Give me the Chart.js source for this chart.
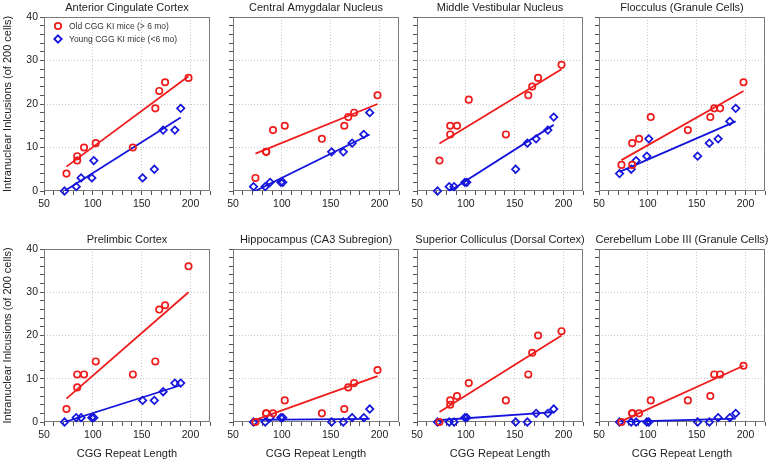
<!DOCTYPE html>
<html>
<head>
<meta charset="UTF-8">
<title>CGG KI inclusions</title>
<script src="https://cdn.jsdelivr.net/npm/chart.js"></script>
<style>
body{margin:0;background:#fff;}
#wrap{position:relative;width:772px;height:465px;overflow:hidden;}
#wrap canvas{position:absolute;}
</style>
</head>
<body>
<div id="wrap"></div>
<script>
// repeat lengths of the animals (same mice in every region)
var oldX   = [73, 84, 84, 91, 103, 141, 164, 168, 174, 198];
var youngX = [71, 83, 88, 99, 101, 151, 163, 172, 184, 190];

var regionNames = ['Anterior Cingulate Cortex', 'Central Amygdalar Nucleus', 'Middle Vestibular Nucleus',
  'Flocculus (Granule Cells)', 'Prelimbic Cortex', 'Hippocampus (CA3 Subregion)',
  'Superior Colliculus (Dorsal Cortex)', 'Cerebellum Lobe III (Granule Cells)'];

// inclusions of 200 cells, per region
var accOld    = [4, 7, 8, 10, 11, 10, 19, 23, 25, 26];
var accYoung  = [0, 1, 3, 3, 7, 3, 5, 14, 14, 19];
var camOld    = [3, 9, 9, 14, 15, 12, 15, 17, 18, 22];
var camYoung  = [1, 1, 2, 2, 2, 9, 9, 11, 13, 18];
var mvnOld    = [7, 13, 15, 15, 21, 13, 22, 24, 26, 29];
var mvnYoung  = [0, 1, 1, 2, 2, 5, 11, 12, 14, 17];
var flocOld   = [6, 6, 11, 12, 17, 14, 17, 19, 19, 25];
var flocYoung = [4, 5, 7, 8, 12, 8, 11, 12, 16, 19];
var plOld     = [3, 8, 11, 11, 14, 11, 14, 26, 27, 36];
var plYoung   = [0, 1, 1, 1, 1, 5, 5, 7, 9, 9];
var hipOld    = [0, 2, 2, 2, 5, 2, 3, 8, 9, 12];
var hipYoung  = [0, 0, 1, 1, 1, 0, 0, 1, 1, 3];
var scOld     = [0, 4, 5, 6, 9, 5, 11, 16, 20, 21];
var scYoung   = [0, 0, 0, 1, 1, 0, 0, 2, 2, 3];
var cbOld     = [0, 2, 2, 2, 5, 5, 6, 11, 11, 13];
var cbYoung   = [0, 0, 0, 0, 0, 0, 0, 1, 1, 2];

// fitted lines, value at start and end of the x range
var oldFitX = [73, 198];
var youngFitX = [71, 190];
var oldFitEnds   = [[5.6, 26.4], [8.6, 20], [10.9, 28], [7.1, 23], [5.4, 30], [0.5, 10.6], [2.3, 20], [0.2, 13]];
var youngFitEnds = [[0, 16.9], [-0.2, 13], [-1.8, 15.2], [4.4, 16], [0, 8.5], [0.5, 0.7], [0.4, 2.3], [0, 0.8]];

var xTicks = [50, 100, 150, 200];
var yTicks = [0, 10, 20, 30, 40];

var oldCounts = [accOld, camOld, mvnOld, flocOld, plOld, hipOld, scOld, cbOld];
var youngCounts = [accYoung, camYoung, mvnYoung, flocYoung, plYoung, hipYoung, scYoung, cbYoung];

var RED = '#ee1c1c', BLUE = '#1414dc';
var FONT = "'Liberation Sans', Arial, sans-serif";
Chart.defaults.font.family = FONT;
Chart.defaults.color = '#222';

function pts(xs, ys){
  return xs.map(function(x, i){ return {x: x, y: ys[i]}; });
}

// box around the plot area
var frame = {
  id: 'frame',
  beforeDatasetsDraw: function(chart){
    var a = chart.chartArea, ctx = chart.ctx;
    ctx.save();
    ctx.strokeStyle = '#7a7a7a';
    ctx.lineWidth = 1;
    ctx.strokeRect(Math.round(a.left) + 0.5, Math.round(a.top) + 0.5, Math.round(a.width) - 1, Math.round(a.bottom) - Math.round(a.top) - 1);
    ctx.restore();
  }
};

// legend inside first panel
var innerLegend = {
  id: 'innerLegend',
  afterDatasetsDraw: function(chart, args, opts){
    if (!opts.show) return;
    var a = chart.chartArea, ctx = chart.ctx;
    ctx.save();
    ctx.font = '8.5px ' + FONT;
    ctx.textBaseline = 'middle';
    var y = a.top + 9;
    chart.data.datasets.forEach(function(d){
      if (!d.label) return;
      var cx = a.left + 14;
      ctx.strokeStyle = d.borderColor;
      ctx.lineWidth = 1.8;
      ctx.beginPath();
      if (d.pointStyle == 'circle') {
        ctx.arc(cx, y, 3.2, 0, Math.PI * 2);
      } else {
        ctx.moveTo(cx, y - 3.7); ctx.lineTo(cx + 3.7, y); ctx.lineTo(cx, y + 3.7); ctx.lineTo(cx - 3.7, y); ctx.closePath();
      }
      ctx.stroke();
      ctx.fillStyle = '#333';
      ctx.fillText(d.label, a.left + 25, y + 0.5);
      y += 13;
    });
    ctx.restore();
  }
};

var boxLeft = [44, 233, 417, 599];
var boxW = 166;
var rowTop = [0, 232];
var boxH = [174, 173];
var xAxisH = [25, 43];
var wrap = document.getElementById('wrap');

regionNames.forEach(function(name, i){
  var row = Math.floor(i / 4), col = i % 4;
  var yw = col == 0 ? 44 : 14;
  // empty axis on the right, same width, so the title sits centred over the box
  var w = yw + boxW + yw;
  var h = 17 + boxH[row] + xAxisH[row];
  var cv = document.createElement('canvas');
  cv.width = w; cv.height = h;
  cv.style.left = (boxLeft[col] - yw) + 'px';
  cv.style.top = rowTop[row] + 'px';
  cv.style.width = w + 'px'; cv.style.height = h + 'px';
  wrap.appendChild(cv);

  new Chart(cv, {
    type: 'scatter',
    data: {
      datasets: [{
        label: 'Old CGG KI mice (> 6 mo)',
        data: pts(oldX, oldCounts[i]),
        pointStyle: 'circle', pointRadius: 3.2, borderWidth: 1.7,
        borderColor: RED, backgroundColor: 'rgba(255,255,255,0)', clip: false
      }, {
        label: 'Young CGG KI mice (<6 mo)',
        data: pts(youngX, youngCounts[i]),
        pointStyle: 'rectRot', pointRadius: 3.7, borderWidth: 1.7,
        borderColor: BLUE, backgroundColor: 'rgba(255,255,255,0)', clip: false
      }, {
        data: pts(oldFitX, oldFitEnds[i]),
        showLine: true, pointRadius: 0, borderWidth: 1.8, borderColor: RED, clip: 0
      }, {
        data: pts(youngFitX, youngFitEnds[i]),
        showLine: true, pointRadius: 0, borderWidth: 1.8, borderColor: BLUE, clip: 0
      }]
    },
    options: {
      responsive: false,
      animation: false,
      events: [],
      layout: {padding: 0},
      plugins: {
        legend: {display: false},
        tooltip: {enabled: false},
        title: {
          display: true, text: name, color: '#222',
          font: {size: 11, weight: 'normal', lineHeight: '14px'},
          padding: {top: 1, bottom: 2}
        },
        innerLegend: {show: i == 0}
      },
      scales: {
        x: {
          type: 'linear', min: 50, max: 220,
          afterFit: function(s){ s.height = xAxisH[row]; },
          border: {display: false, dash: [1, 2]},
          grid: {
            color: function(c){ var v = c.tick ? c.tick.value : 0; return (v > 50 && xTicks.indexOf(v) >= 0) ? '#c8c8c8' : 'rgba(0,0,0,0)'; },
            tickColor: '#555', tickLength: 4
          },
          ticks: {
            stepSize: 10, autoSkip: false, maxRotation: 0, padding: 3,
            font: {size: 10.5}, color: '#222',
            callback: function(v){ return xTicks.indexOf(v) >= 0 ? v : ''; }
          },
          title: {
            display: row == 1, text: 'CGG Repeat Length', color: '#222',
            font: {size: 11}, padding: {top: 0, bottom: 4}
          }
        },
        y: {
          min: 0, max: 40,
          afterFit: function(s){ s.width = yw; },
          border: {display: false, dash: [1, 2]},
          grid: {
            color: function(c){ var v = c.tick ? c.tick.value : 0; return (v > 0 && v < 40 && yTicks.indexOf(v) >= 0) ? '#c8c8c8' : 'rgba(0,0,0,0)'; },
            tickColor: '#555', tickLength: 4
          },
          ticks: {
            stepSize: 2, autoSkip: false, padding: 2,
            font: {size: 10.5}, color: '#222',
            callback: function(v){ return (col == 0 && yTicks.indexOf(v) >= 0) ? v : ''; }
          },
          title: {
            display: col == 0, text: 'Intranuclear Inlcusions (of 200 cells)', color: '#222',
            font: {size: 11}, padding: {top: 1, bottom: 0}
          }
        },
        yRight: {
          position: 'right', min: 0, max: 1,
          afterFit: function(s){ s.width = yw; },
          border: {display: false},
          grid: {display: false, drawTicks: false},
          ticks: {display: false}
        }
      }
    },
    plugins: [frame, innerLegend]
  });
});
</script>
</body>
</html>
